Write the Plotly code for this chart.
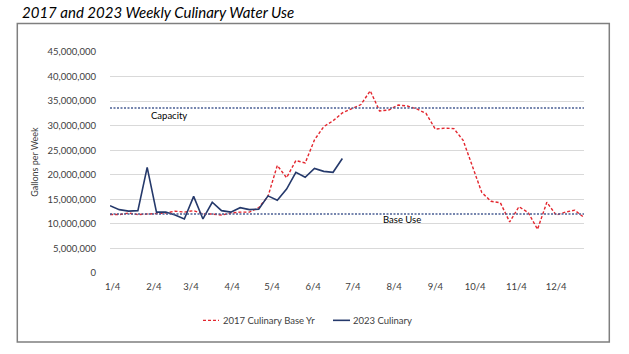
import pandas as pd
import plotly.graph_objects as go

# ---- data ----
weeks_2017 = pd.date_range("2023-01-02", periods=52, freq="7D")
weeks_2023 = weeks_2017[:26]

culinary_2017 = [11.9, 11.9, 12.2, 11.9, 12.0, 12.1, 12.2, 12.6, 12.4, 12.7,
                 12.0, 12.0, 11.8, 12.2, 12.4, 12.4, 13.3, 15.6, 21.9, 19.4,
                 22.9, 22.4, 27.1, 29.8, 31.0, 32.6, 33.4, 34.3, 37.1, 33.0,
                 33.2, 34.2, 34.0, 33.4, 32.5, 29.3, 29.5, 29.4, 27.0, 21.8,
                 16.4, 14.6, 14.3, 10.4, 13.5, 12.3, 8.9, 14.4, 11.8, 12.4,
                 12.8, 11.3]  # million gallons
culinary_2023 = [13.7, 12.9, 12.6, 12.7, 21.5, 12.4, 12.4, 11.8, 11.0, 15.6,
                 11.0, 14.4, 12.7, 12.4, 13.3, 12.9, 13.0, 15.7, 14.8, 17.1,
                 20.5, 19.5, 21.3, 20.7, 20.5, 23.3]  # million gallons

capacity = 33.6e6
base_use = 12.0e6

tick_dates = ["2023-01-04", "2023-02-04", "2023-03-04", "2023-04-04", "2023-05-04",
              "2023-06-04", "2023-07-04", "2023-08-04", "2023-09-04", "2023-10-04",
              "2023-11-04", "2023-12-04"]
tick_labels = ["1/4", "2/4", "3/4", "4/4", "5/4", "6/4", "7/4", "8/4", "9/4",
               "10/4", "11/4", "12/4"]
y_ticks = list(range(0, 45_000_001, 5_000_000))

series_names = ["2017 Culinary Base Yr", "2023 Culinary"]

# ---- styling / layout helpers ----
W, H = 629, 354
L, R, T, B = 110, 584, 52, 273.3
FONT = "Lato"
RED = "#E3262E"
NAVY = "#25396B"
REFC = "#4A5F94"


def px(x):
    return (x - L) / (R - L)


def py(y):
    return (B - y) / (B - T)


fig = go.Figure()
fig.add_trace(go.Scatter(x=weeks_2017, y=[v * 1e6 for v in culinary_2017],
                         mode="lines", name=series_names[0], showlegend=False,
                         line=dict(color=RED, width=1.4, dash="3px,2px")))
fig.add_trace(go.Scatter(x=weeks_2023, y=[v * 1e6 for v in culinary_2023],
                         mode="lines", name=series_names[1], showlegend=False,
                         line=dict(color=NAVY, width=1.6)))
for val in (capacity, base_use):
    fig.add_trace(go.Scatter(x=[weeks_2017[0], weeks_2017[-1]], y=[val, val],
                             mode="lines", showlegend=False, hoverinfo="skip",
                             line=dict(color=REFC, width=1.6, dash="2px,1.5px")))

shapes = [
    dict(type="rect", xref="paper", yref="paper",
         x0=px(17.3), x1=px(609.3), y0=py(342.3), y1=py(23.5),
         line=dict(color="#7F7F7F", width=1.5), layer="below"),
    dict(type="line", xref="paper", yref="paper",
         x0=px(203), x1=px(219), y0=py(320.7), y1=py(320.7),
         line=dict(color=RED, width=1.4, dash="3px,2px")),
    dict(type="line", xref="paper", yref="paper",
         x0=px(333), x1=px(350), y0=py(320.7), y1=py(320.7),
         line=dict(color=NAVY, width=1.6)),
]

annotations = [
    dict(text="2017 and 2023 Weekly Culinary Water Use", xref="paper", yref="paper",
         x=px(20), y=py(12), xanchor="left", yanchor="middle", showarrow=False,
         font=dict(family=FONT, size=15, color="#000000", style="italic")),
    dict(text="Gallons per Week", xref="paper", yref="paper", textangle=-90,
         x=px(35), y=py(162), xanchor="center", yanchor="middle", showarrow=False,
         font=dict(family=FONT, size=9, color="#404040")),
    dict(text="Capacity", xref="paper", yref="paper",
         x=px(169), y=py(116), xanchor="center", yanchor="middle", showarrow=False,
         font=dict(family=FONT, size=9.5, color="#000000")),
    dict(text="Base Use", xref="paper", yref="paper",
         x=px(402), y=py(220), xanchor="center", yanchor="middle", showarrow=False,
         font=dict(family=FONT, size=9.5, color="#000000")),
    dict(text=series_names[0], xref="paper", yref="paper",
         x=px(221), y=py(320.7), xanchor="left", yanchor="middle", showarrow=False,
         font=dict(family=FONT, size=9.5, color="#404040")),
    dict(text=series_names[1], xref="paper", yref="paper",
         x=px(351), y=py(320.7), xanchor="left", yanchor="middle", showarrow=False,
         font=dict(family=FONT, size=9.5, color="#404040")),
]

fig.update_layout(
    width=W, height=H,
    margin=dict(l=L, r=W - R, t=T, b=H - B, pad=0),
    paper_bgcolor="white", plot_bgcolor="white",
    font=dict(family=FONT, size=9.5, color="#404040"),
    showlegend=False,
    shapes=shapes, annotations=annotations,
    xaxis=dict(type="date", range=[weeks_2017[0], weeks_2017[-1]],
               tickmode="array", tickvals=tick_dates, ticktext=tick_labels,
               showgrid=False, zeroline=False, showline=False, ticks="",
               ticklabelstandoff=6, tickfont=dict(size=9.5, color="#404040")),
    yaxis=dict(range=[0, 45_000_000], tickmode="array", tickvals=y_ticks,
               tickformat=",d", showgrid=True, gridcolor="#D9D9D9", gridwidth=1,
               zeroline=False, showline=False, ticks="",
               ticklabelstandoff=13, tickfont=dict(size=9.5, color="#404040")),
)

fig.write_html("out.html")
